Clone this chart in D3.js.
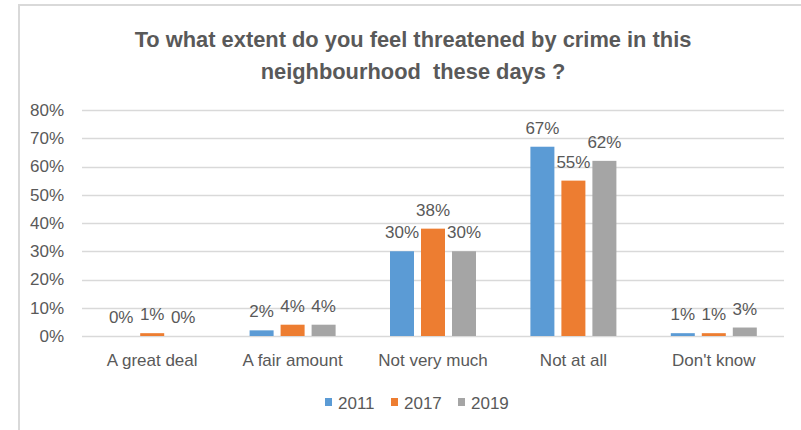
<!DOCTYPE html>
<html>
<head>
<meta charset="utf-8">
<title>Threatened by crime</title>
<script src="https://cdn.jsdelivr.net/npm/d3@7"></script>
<style>
  body { margin: 0; background: #fff; }
  text { fill: #595959; }
</style>
</head>
<body>
<script>
var categories = ["A great deal", "A fair amount", "Not very much", "Not at all", "Don't know"];
var years = ["2011", "2017", "2019"];
var values2011 = [0, 2, 30, 67, 1];
var values2017 = [1, 4, 38, 55, 1];
var values2019 = [0, 4, 30, 62, 3];
var yTicks = [0, 10, 20, 30, 40, 50, 60, 70, 80];
var titleLines = ["To what extent do you feel threatened by crime in this", "neighbourhood\u00a0 these days ?"];
var colors = ["#5B9BD5", "#ED7D31", "#A5A5A5"];

var series = [values2011, values2017, values2019];
var W = 801, H = 430;
var font = "'Liberation Sans', Arial, sans-serif";

var svg = d3.select("body").append("svg")
    .attr("width", W)
    .attr("height", H);

// chart frame
svg.append("rect")
    .attr("x", 19).attr("y", 5)
    .attr("width", W + 20).attr("height", H + 20)
    .attr("fill", "none")
    .attr("stroke", "#d9d9d9")
    .attr("stroke-width", 2);

// title - sized so the first line spans about 557px like the original
var title = svg.append("g").selectAll("text")
    .data(titleLines)
    .enter().append("text")
    .attr("x", 413)
    .attr("y", function(d, i) { return 47 + i * 32; })
    .attr("text-anchor", "middle")
    .style("font-family", font)
    .style("font-weight", "bold")
    .style("font-size", "20px")
    .text(function(d) { return d; });
var firstLen = title.node().getComputedTextLength();
title.style("font-size", (20 * 557 / firstLen) + "px");

var plot = { left: 82, right: 784, top: 110, bottom: 336 };

var x0 = d3.scaleBand()
    .domain(categories)
    .range([plot.left, plot.right]);

var x1 = d3.scaleBand()
    .domain(years)
    .range([-43, 43])
    .paddingInner(7 / 31);

var y = d3.scaleLinear()
    .domain([0, 80])
    .range([plot.bottom, plot.top]);

// gridlines
svg.append("g").selectAll("line")
    .data(yTicks)
    .enter().append("line")
    .attr("x1", plot.left).attr("x2", plot.right)
    .attr("y1", function(d) { return Math.round(y(d)) + 0.5; })
    .attr("y2", function(d) { return Math.round(y(d)) + 0.5; })
    .attr("stroke", "#d9d9d9")
    .attr("stroke-width", 1.5);

// y labels
var yAxis = svg.append("g")
    .attr("transform", "translate(" + (plot.left - 4) + ",0)")
    .call(d3.axisLeft(y).tickValues(yTicks).tickSize(0).tickPadding(14)
        .tickFormat(function(d) { return d + "%"; }));
yAxis.select(".domain").remove();
yAxis.selectAll("text")
    .style("font-family", font)
    .style("font-size", "17px")
    .attr("fill", "#595959");

// x labels
var xAxis = svg.append("g")
    .attr("transform", "translate(0," + plot.bottom + ")")
    .call(d3.axisBottom(x0).tickSize(0).tickPadding(18));
xAxis.select(".domain").remove();
xAxis.selectAll("text")
    .style("font-family", font)
    .style("font-size", "17px")
    .attr("fill", "#595959");

// bars and labels
var groups = svg.append("g").selectAll("g")
    .data(categories)
    .enter().append("g")
    .attr("transform", function(d) { return "translate(" + (x0(d) + x0.bandwidth() / 2) + ",0)"; });

var cells = function(d, ci) {
    return years.map(function(yr, si) { return { year: yr, value: series[si][ci], color: colors[si] }; });
};

groups.selectAll("rect")
    .data(function(d) { return cells(d, categories.indexOf(d)); })
    .enter().append("rect")
    .attr("x", function(d) { return x1(d.year); })
    .attr("width", x1.bandwidth())
    .attr("y", function(d) { return y(d.value); })
    .attr("height", function(d) { return plot.bottom - y(d.value); })
    .attr("fill", function(d) { return d.color; });

groups.selectAll("text")
    .data(function(d) { return cells(d, categories.indexOf(d)); })
    .enter().append("text")
    .attr("x", function(d) { return x1(d.year) + x1.bandwidth() / 2; })
    .attr("y", function(d) { return y(d.value) - 13; })
    .attr("text-anchor", "middle")
    .style("font-family", font)
    .style("font-size", "17px")
    .text(function(d) { return d.value + "%"; });

// legend
var legendX = [325, 391, 458];
var legend = svg.append("g").selectAll("g")
    .data(years)
    .enter().append("g")
    .attr("transform", function(d, i) { return "translate(" + legendX[i] + ",398)"; });
legend.append("rect")
    .attr("width", 7).attr("height", 8)
    .attr("fill", function(d, i) { return colors[i]; });
legend.append("text")
    .attr("x", 13).attr("y", 10.5)
    .style("font-family", font)
    .style("font-size", "17px")
    .text(function(d) { return d; });
</script>
</body>
</html>
